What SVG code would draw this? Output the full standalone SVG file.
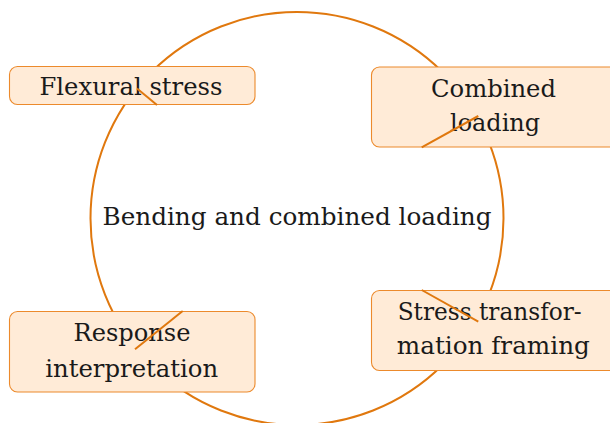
<svg xmlns="http://www.w3.org/2000/svg" width="610" height="423" viewBox="0 0 610 423">
  <style>
    .ring { fill: none; stroke: #E0780E; stroke-width: 2; }
    .box rect { fill: #FFEBD7; stroke: #EC8A2C; stroke-width: 1.1; }
    .lbl { font-family: "DejaVu Serif", "Liberation Serif", serif; font-size: 24px; fill: #1a1a1a; text-anchor: middle; }
    .link { stroke: #E0780E; stroke-width: 2; fill: none; }
  </style>

  <!-- central cycle -->
  <g id="cycle">
    <circle class="ring" cx="297" cy="218.5" r="206.5"/>
    <text class="lbl" x="297" y="225" textLength="389" lengthAdjust="spacingAndGlyphs">Bending and combined loading</text>
  </g>

  <g id="flexural-stress" class="box">
    <rect x="9.5" y="66.5" width="245.5" height="38" rx="8"/>
    <text class="lbl" x="131" y="95" textLength="183" lengthAdjust="spacingAndGlyphs">Flexural stress</text>
  </g>

  <g id="combined-loading" class="box">
    <rect x="371.5" y="67" width="246" height="80" rx="8"/>
    <text class="lbl" x="493.5" y="96.5" textLength="125" lengthAdjust="spacingAndGlyphs">Combined</text>
    <text class="lbl" x="495" y="131" textLength="90" lengthAdjust="spacingAndGlyphs">loading</text>
  </g>

  <g id="stress-transformation" class="box">
    <rect x="371.5" y="290.5" width="246" height="80" rx="8"/>
    <text class="lbl" x="489.7" y="319.5" textLength="184" lengthAdjust="spacingAndGlyphs">Stress transfor-</text>
    <text class="lbl" x="493.3" y="354" textLength="193" lengthAdjust="spacingAndGlyphs">mation framing</text>
  </g>

  <g id="response-interpretation" class="box">
    <rect x="9.5" y="311.5" width="245.5" height="80.5" rx="8"/>
    <text class="lbl" x="132" y="340.7" textLength="117" lengthAdjust="spacingAndGlyphs">Response</text>
    <text class="lbl" x="131.7" y="377" textLength="173" lengthAdjust="spacingAndGlyphs">interpretation</text>
  </g>

  <!-- connector stubs -->
  <g id="connectors">
    <line class="link" x1="137" y1="88.5" x2="157" y2="105"/>
    <line class="link" x1="421.7" y1="147.3" x2="478.3" y2="116"/>
    <line class="link" x1="421.7" y1="290" x2="478.3" y2="321.7"/>
    <line class="link" x1="135" y1="349.3" x2="182.7" y2="311"/>
  </g>
</svg>
